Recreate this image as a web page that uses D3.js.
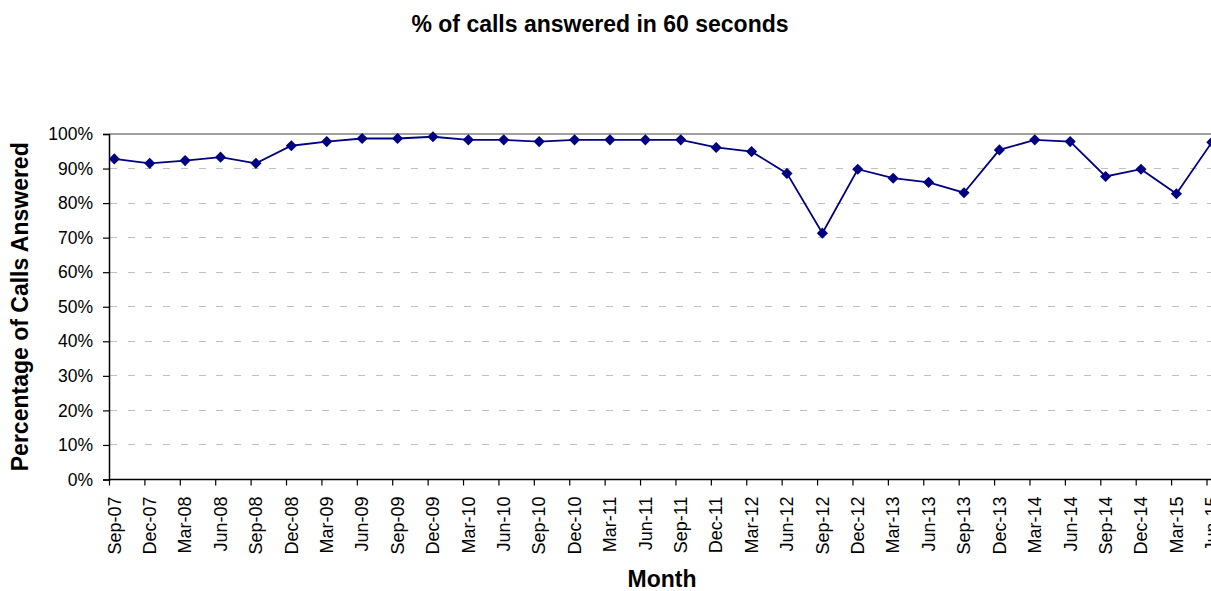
<!DOCTYPE html>
<html>
<head>
<meta charset="utf-8">
<script src="https://cdn.jsdelivr.net/npm/d3@7"></script>
<style>
  html, body { margin: 0; padding: 0; background: #fff; }
  #chart-calls { width: 1211px; height: 591px; overflow: hidden; }
  text { font-family: "Liberation Sans", Arial, sans-serif; }
</style>
</head>
<body>
<div id="chart-calls"></div>
<script>
// ═══════════════════════════════════════════════
// % of calls answered in 60 seconds — quarterly
// ═══════════════════════════════════════════════

const months = [
  "Sep-07","Dec-07","Mar-08","Jun-08","Sep-08","Dec-08","Mar-09","Jun-09",
  "Sep-09","Dec-09","Mar-10","Jun-10","Sep-10","Dec-10","Mar-11","Jun-11",
  "Sep-11","Dec-11","Mar-12","Jun-12","Sep-12","Dec-12","Mar-13","Jun-13",
  "Sep-13","Dec-13","Mar-14","Jun-14","Sep-14","Dec-14","Mar-15","Jun-15"
];

// percent answered within 60 s
const answered = [
  92.8, 91.5, 92.3, 93.3, 91.5, 96.6, 97.8, 98.7,
  98.7, 99.2, 98.3, 98.3, 97.8, 98.3, 98.3, 98.3,
  98.3, 96.1, 94.9, 88.6, 71.3, 89.8, 87.2, 86.0,
  83.0, 95.4, 98.3, 97.8, 87.7, 89.8, 82.7, 97.6
];

const yTicks = [0, 10, 20, 30, 40, 50, 60, 70, 80, 90, 100];

(function () {

  const CONTAINER_ID = "chart-calls";
  const LINE_COLOR   = "#000080";
  const GRID_COLOR   = "#c0c0c0";

  const totalW = 1211, totalH = 591;
  // plot box (right side runs past the window edge, like the source)
  const left = 109, top = 134, bottom = 479.5;
  const lastTickX = 1206.5;
  const POINT_SHIFT = 0.15; // points sit a little right of their tick

  const data = months.map((m, i) => ({ month: m, i: i, value: answered[i] }));

  const svg = d3.select(`#${CONTAINER_ID}`).append("svg")
    .attr("width", totalW).attr("height", totalH);

  const xScale = d3.scaleLinear()
    .domain([0, months.length - 1])
    .range([left, lastTickX]);

  const yScale = d3.scaleLinear()
    .domain([0, 100])
    .range([bottom, top]);

  // ── Grid ─────────────────────────────────────
  svg.append("g")
    .selectAll("line").data(yTicks.filter(t => t > 0 && t < 100)).join("line")
    .attr("x1", left + 1).attr("x2", totalW)
    .attr("y1", d => yScale(d)).attr("y2", d => yScale(d))
    .attr("stroke", GRID_COLOR).attr("stroke-width", 1)
    .attr("stroke-dasharray", "7,10.7")
    .attr("shape-rendering", "crispEdges");

  // plot area top border
  svg.append("line")
    .attr("x1", left).attr("x2", totalW)
    .attr("y1", yScale(100)).attr("y2", yScale(100))
    .attr("stroke", "#808080").attr("stroke-width", 1.5);

  // ── Y axis ───────────────────────────────────
  const yAxis = svg.append("g").attr("transform", `translate(${left},0)`)
    .call(d3.axisLeft(yScale).tickValues(yTicks)
      .tickSize(6).tickPadding(10).tickFormat(d => d + "%"));
  yAxis.select(".domain").attr("stroke", "#000").attr("stroke-width", 1.5);
  yAxis.selectAll(".tick line").attr("stroke", "#000").attr("stroke-width", 1.2);
  yAxis.selectAll("text")
    .attr("font-family", "'Liberation Sans', Arial, sans-serif")
    .attr("font-size", "17.5px").attr("fill", "#000");

  // ── X axis ───────────────────────────────────
  const xAxis = svg.append("g").attr("transform", `translate(0,${bottom})`)
    .call(d3.axisBottom(xScale).tickValues(d3.range(months.length))
      .tickSize(6).tickFormat(""));
  xAxis.select(".domain").attr("d", `M${left},0H${totalW}`)
    .attr("stroke", "#000").attr("stroke-width", 1.5);
  xAxis.selectAll(".tick line").attr("stroke", "#000").attr("stroke-width", 1.2);

  svg.append("g").selectAll("text").data(data).join("text")
    .attr("transform", d => `translate(${xScale(d.i + POINT_SHIFT)},${bottom + 17}) rotate(-90)`)
    .attr("text-anchor", "end").attr("dy", "0.35em")
    .attr("font-size", "18px").attr("fill", "#000")
    .text(d => d.month);

  // ── Line + markers ───────────────────────────
  const line = d3.line()
    .x(d => xScale(d.i + POINT_SHIFT))
    .y(d => yScale(d.value));

  svg.append("path").datum(data)
    .attr("d", line).attr("fill", "none")
    .attr("stroke", LINE_COLOR).attr("stroke-width", 1.8);

  svg.append("g").selectAll("path").data(data).join("path")
    .attr("d", d3.symbol(d3.symbolSquare, 62))
    .attr("transform", d => `translate(${xScale(d.i + POINT_SHIFT)},${yScale(d.value)}) rotate(45)`)
    .attr("fill", LINE_COLOR);

  // ── Titles ───────────────────────────────────
  svg.append("text").attr("x", 600).attr("y", 32)
    .attr("text-anchor", "middle").attr("font-size", "23px").attr("font-weight", "bold")
    .text("% of calls answered in 60 seconds");

  svg.append("text").attr("x", 662).attr("y", 587)
    .attr("text-anchor", "middle").attr("font-size", "23px").attr("font-weight", "bold")
    .text("Month");

  svg.append("text")
    .attr("transform", `translate(28,${(top + bottom) / 2}) rotate(-90)`)
    .attr("text-anchor", "middle").attr("font-size", "23px").attr("font-weight", "bold")
    .text("Percentage of Calls Answered");

})();
</script>
</body>
</html>
